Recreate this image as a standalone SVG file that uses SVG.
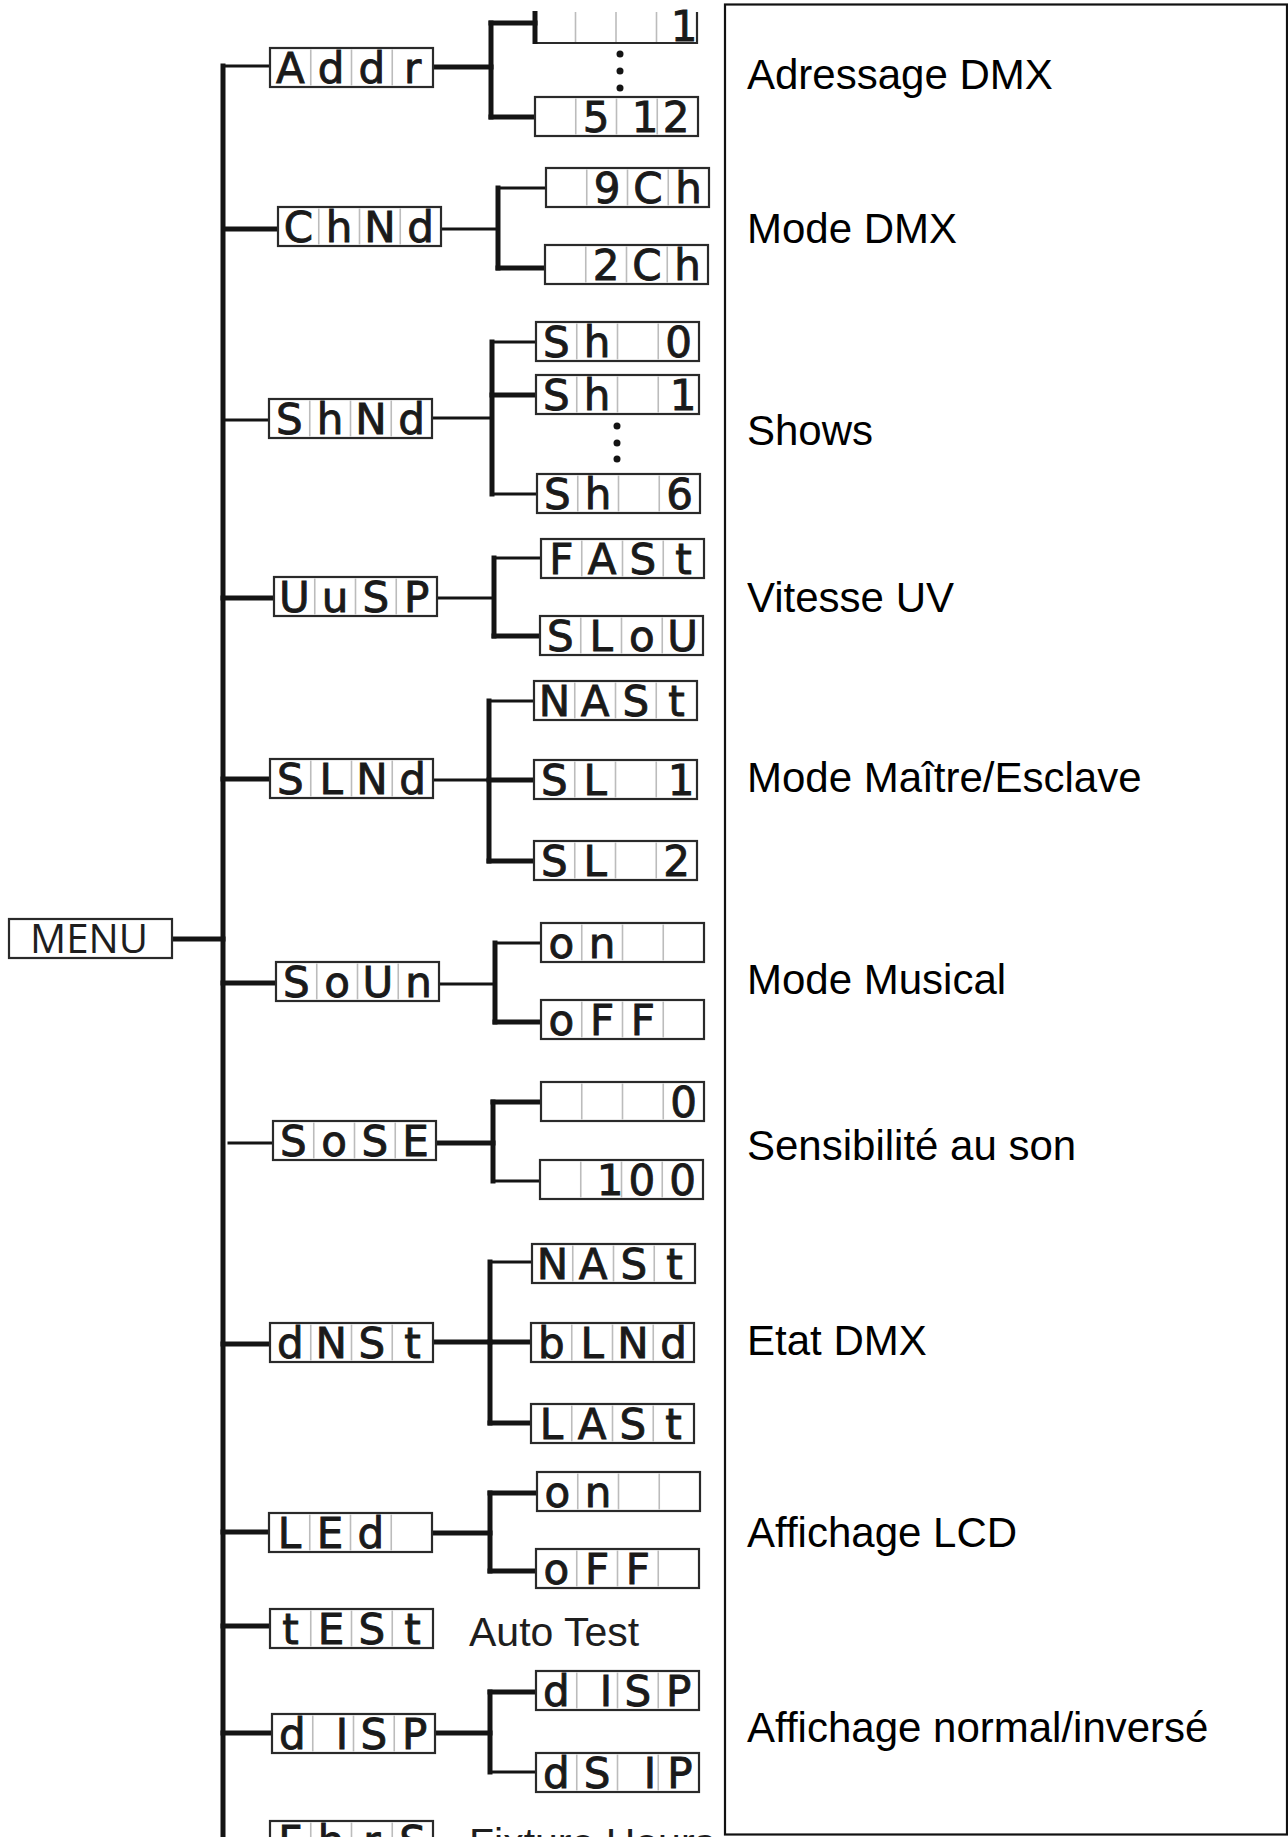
<svg xmlns="http://www.w3.org/2000/svg" xmlns:xlink="http://www.w3.org/1999/xlink" width="1288" height="1837" viewBox="0 0 1288 1837">
<style>
.bg{fill:#fff}
.box{fill:#fff;stroke:#2a2a2a;stroke-width:2.2}
.div{stroke:#bcbcbc;stroke-width:1.6;fill:none}
.lcd{font-family:"DejaVu Sans",sans-serif;font-size:42px;fill:#1a1a1a;stroke:#1a1a1a;stroke-width:0.9;text-anchor:middle}
.lbl{font-family:"Liberation Sans",Arial,sans-serif;font-size:42px;fill:#000}
.k{stroke:#141414;fill:none;stroke-linecap:square}
.t5{stroke-width:5}
.t3{stroke-width:3}
.dot{fill:#141414}
</style>
<defs>
<g id="lcdf"><rect x="0" y="0" width="163" height="39" class="box"/><path class="div" d="M40.75 1.5V37.5M81.5 1.5V37.5M122.25 1.5V37.5"/></g>
</defs>
<rect class="bg" x="0" y="0" width="1288" height="1837"/>

<g id="connectors">
<path class="k t5" d="M223 66V1840"/>
<path class="k t3" d="M223 66H270"/>
<path class="k t5" d="M225 229H278"/>
<path class="k t3" d="M223 420H269"/>
<path class="k t5" d="M223 598H274"/>
<path class="k t5" d="M223 779H270"/>
<path class="k t5" d="M172 939H223"/>
<path class="k t5" d="M223 983H276"/>
<path class="k t3" d="M229 1143H273"/>
<path class="k t5" d="M223 1344H270"/>
<path class="k t5" d="M223 1532H269"/>
<path class="k t5" d="M223 1626H270"/>
<path class="k t5" d="M223 1733H272"/>
<path class="k t5" d="M433 67H491"/>
<path class="k t5" d="M491 23V117"/>
<path class="k t5" d="M491 23H535"/>
<path class="k t5" d="M491 117H535"/>
<path class="k t3" d="M441 229H498"/>
<path class="k t5" d="M498 188V268"/>
<path class="k t3" d="M498 188H546"/>
<path class="k t5" d="M498 268H545"/>
<path class="k t3" d="M430 418H492"/>
<path class="k t5" d="M492 342V494"/>
<path class="k t3" d="M492 342H536"/>
<path class="k t5" d="M492 395H536"/>
<path class="k t3" d="M492 494H537"/>
<path class="k t3" d="M437 598H494"/>
<path class="k t5" d="M494 558V636"/>
<path class="k t3" d="M494 558H541"/>
<path class="k t5" d="M494 636H540"/>
<path class="k t3" d="M433 780H489"/>
<path class="k t5" d="M489 701V861"/>
<path class="k t3" d="M489 701H534"/>
<path class="k t5" d="M489 780H534"/>
<path class="k t5" d="M489 861H534"/>
<path class="k t3" d="M437 984H495"/>
<path class="k t5" d="M495 943V1022"/>
<path class="k t3" d="M495 943H541"/>
<path class="k t5" d="M495 1022H541"/>
<path class="k t5" d="M436 1143H493"/>
<path class="k t5" d="M493 1102V1181"/>
<path class="k t5" d="M493 1102H541"/>
<path class="k t3" d="M493 1181H540"/>
<path class="k t5" d="M432 1342H490"/>
<path class="k t5" d="M490 1262V1423"/>
<path class="k t3" d="M490 1262H532"/>
<path class="k t5" d="M490 1342H531"/>
<path class="k t5" d="M490 1423H531"/>
<path class="k t5" d="M431 1533H490"/>
<path class="k t5" d="M490 1493V1571"/>
<path class="k t5" d="M490 1493H537"/>
<path class="k t5" d="M490 1571H536"/>
<path class="k t5" d="M435 1733H490"/>
<path class="k t5" d="M490 1692V1772"/>
<path class="k t5" d="M490 1692H536"/>
<path class="k t3" d="M490 1772H536"/>
</g>

<g id="menu">
<rect class="box" x="9" y="919" width="163" height="39"/>
<text x="89" y="953" text-anchor="middle" font-family="'Open Sans','Noto Sans',sans-serif" font-size="40" fill="#1e1e1e" textLength="118" lengthAdjust="spacingAndGlyphs">MENU</text>
</g>

<g id="addr"><use xlink:href="#lcdf" x="270" y="48"/><text class="lcd" x="290.4 331.1 371.9 412.6" y="83">Addr</text></g>
<g id="chnd"><use xlink:href="#lcdf" x="278" y="207"/><text class="lcd" x="298.4 339.1 379.9 420.6" y="242">ChNd</text></g>
<g id="shnd"><use xlink:href="#lcdf" x="269" y="399"/><text class="lcd" x="289.4 330.1 370.9 411.6" y="434">ShNd</text></g>
<g id="uusp"><use xlink:href="#lcdf" x="274" y="577"/><text class="lcd" x="294.4 335.1 375.9 416.6" y="612">UuSP</text></g>
<g id="slnd"><use xlink:href="#lcdf" x="270" y="759"/><text class="lcd" x="290.4 331.1 371.9 412.6" y="794">SLNd</text></g>
<g id="soun"><use xlink:href="#lcdf" x="276" y="962"/><text class="lcd" x="296.4 337.1 377.9 418.6" y="997">SoUn</text></g>
<g id="sose"><use xlink:href="#lcdf" x="273" y="1121"/><text class="lcd" x="293.4 334.1 374.9 415.6" y="1156">SoSE</text></g>
<g id="dnst"><use xlink:href="#lcdf" x="270" y="1323"/><text class="lcd" x="290.4 331.1 371.9 412.6" y="1358">dNSt</text></g>
<g id="led"><use xlink:href="#lcdf" x="269" y="1513"/><text class="lcd" x="289.4 330.1 370.9" y="1548">LEd</text></g>
<g id="test"><use xlink:href="#lcdf" x="270" y="1609"/><text class="lcd" x="290.4 331.1 371.9 412.6" y="1644">tESt</text>
<text x="469" y="1646" font-family="'Liberation Sans',Arial,sans-serif" font-size="41" fill="#1e1e1e">Auto Test</text></g>
<g id="disp"><use xlink:href="#lcdf" x="272" y="1714"/><text class="lcd" x="292.4 342 373.9 414.6" y="1749">dISP</text></g>
<g id="fhrs"><use xlink:href="#lcdf" x="270" y="1821"/><text class="lcd" x="290.4 331.1 371.9 412.6" y="1856">FhrS</text>
<text x="469" y="1857" font-family="'Liberation Sans',Arial,sans-serif" font-size="41" fill="#1e1e1e">Fixture Hours</text></g>

<g id="addr-1">
<path class="div" d="M575.5 12V42M616 12V42M656.5 12V42"/>
<path d="M535 12V43H697V12" fill="none" stroke="#2a2a2a" stroke-width="2.2"/>
<path d="M535 11V44" stroke="#141414" stroke-width="5"/>
<text class="lcd" x="684" y="41">1</text>
</g>
<g id="addr-dots"><circle class="dot" cx="620" cy="54" r="3.5"/><circle class="dot" cx="620" cy="71" r="3.5"/><circle class="dot" cx="620" cy="88" r="3.5"/></g>
<g id="addr-512"><use xlink:href="#lcdf" x="535" y="97"/><text class="lcd" x="596 645 676" y="132">512</text></g>
<g id="ch9"><use xlink:href="#lcdf" x="546" y="168"/><text class="lcd" x="607.1 647.9 688.6" y="203">9Ch</text></g>
<g id="ch2"><use xlink:href="#lcdf" x="545" y="245"/><text class="lcd" x="606.1 646.9 687.6" y="280">2Ch</text></g>
<g id="sh0"><use xlink:href="#lcdf" x="536" y="322"/><text class="lcd" x="556.4 597.1 678.6" y="357">Sh0</text></g>
<g id="sh1"><use xlink:href="#lcdf" x="536" y="375"/><text class="lcd" x="556.4 597.1 683" y="410">Sh1</text></g>
<g id="sh-dots"><circle class="dot" cx="617" cy="426" r="3.5"/><circle class="dot" cx="617" cy="443" r="3.5"/><circle class="dot" cx="617" cy="459" r="3.5"/></g>
<g id="sh6"><use xlink:href="#lcdf" x="537" y="474"/><text class="lcd" x="557.4 598.1 679.6" y="509">Sh6</text></g>
<g id="fast"><use xlink:href="#lcdf" x="541" y="539"/><text class="lcd" x="561.4 602.1 642.9 683.6" y="574">FASt</text></g>
<g id="slou"><use xlink:href="#lcdf" x="540" y="616"/><text class="lcd" x="560.4 601.1 641.9 682.6" y="651">SLoU</text></g>
<g id="nast1"><use xlink:href="#lcdf" x="534" y="681"/><text class="lcd" x="554.4 595.1 635.9 676.6" y="716">NASt</text></g>
<g id="sl1"><use xlink:href="#lcdf" x="534" y="760"/><text class="lcd" x="554.4 595.1 681" y="795">SL1</text></g>
<g id="sl2"><use xlink:href="#lcdf" x="534" y="841"/><text class="lcd" x="554.4 595.1 676.6" y="876">SL2</text></g>
<g id="on1"><use xlink:href="#lcdf" x="541" y="923"/><text class="lcd" x="561.4 602.1" y="958">on</text></g>
<g id="off1"><use xlink:href="#lcdf" x="541" y="1000"/><text class="lcd" x="561.4 602.1 642.9" y="1035">oFF</text></g>
<g id="s0"><use xlink:href="#lcdf" x="541" y="1082"/><text class="lcd" x="683.6" y="1117">0</text></g>
<g id="s100"><use xlink:href="#lcdf" x="540" y="1160"/><text class="lcd" x="610 641.9 682.6" y="1195">100</text></g>
<g id="nast2"><use xlink:href="#lcdf" x="532" y="1244"/><text class="lcd" x="552.4 593.1 633.9 674.6" y="1279">NASt</text></g>
<g id="blnd"><use xlink:href="#lcdf" x="531" y="1323"/><text class="lcd" x="551.4 592.1 632.9 673.6" y="1358">bLNd</text></g>
<g id="last"><use xlink:href="#lcdf" x="531" y="1404"/><text class="lcd" x="551.4 592.1 632.9 673.6" y="1439">LASt</text></g>
<g id="on2"><use xlink:href="#lcdf" x="537" y="1472"/><text class="lcd" x="557.4 598.1" y="1507">on</text></g>
<g id="off2"><use xlink:href="#lcdf" x="536" y="1549"/><text class="lcd" x="556.4 597.1 637.9" y="1584">oFF</text></g>
<g id="disp-n"><use xlink:href="#lcdf" x="536" y="1671"/><text class="lcd" x="556.4 606 637.9 678.6" y="1706">dISP</text></g>
<g id="disp-i"><use xlink:href="#lcdf" x="536" y="1753"/><text class="lcd" x="556.4 597.1 650 680" y="1788">dSIP</text></g>

<g id="panel">
<rect x="725" y="4.5" width="562" height="1830" fill="none" stroke="#111" stroke-width="2.2"/>
<text class="lbl" x="747" y="89">Adressage DMX</text>
<text class="lbl" x="747" y="243">Mode DMX</text>
<text class="lbl" x="747" y="445">Shows</text>
<text class="lbl" x="747" y="612">Vitesse UV</text>
<text class="lbl" x="747" y="792">Mode Maître/Esclave</text>
<text class="lbl" x="747" y="994">Mode Musical</text>
<text class="lbl" x="747" y="1160">Sensibilité au son</text>
<text class="lbl" x="747" y="1355">Etat DMX</text>
<text class="lbl" x="747" y="1547">Affichage LCD</text>
<text class="lbl" x="747" y="1742">Affichage normal/inversé</text>
</g>
</svg>
